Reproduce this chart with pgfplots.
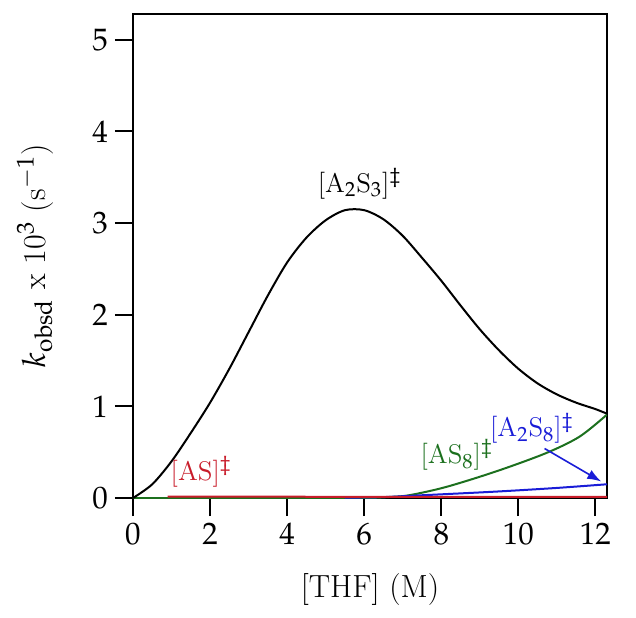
\documentclass[border=0pt]{standalone}
\usepackage{mathpazo}
\usepackage{pgfplots}
\pgfplotsset{compat=1.18}
\usetikzlibrary{arrows.meta}

\definecolor{mred}{RGB}{200,28,42}
\definecolor{mgreen}{RGB}{28,112,30}
\definecolor{mblue}{RGB}{25,28,215}

\begin{document}
\begin{tikzpicture}
\path[use as bounding box] (-66.5pt,-59.5pt) rectangle (251.5pt,249pt);
\begin{axis}[
    at={(0,0)}, anchor=south west,
    scale only axis,
    width=237pt,
    height=242pt,
    xmin=0, xmax=12.3,
    ymin=0, ymax=5.28,
    xtick={0,2,...,12},
    ytick={0,1,...,5},
    tick pos=left,
    tick align=outside,
    major tick length=9pt,
    axis line style={line width=1pt},
    every tick/.style={black, line width=1pt},
    ticklabel style={font=\fontsize{15.5}{17}\selectfont},
    label style={font=\fontsize{16}{18}\selectfont},
    xlabel={[THF] (M)},
    ylabel={$k_{\mathrm{obsd}}$ x 10$^{3}$ (s$^{-1}$)},
    xlabel style={at={(axis description cs:0.5,-0.19)}, anchor=center},
    ylabel style={at={(axis description cs:-0.207,0.5)}, anchor=center},
]
% [AS8]
\addplot[mgreen, line width=1pt, smooth] coordinates {
    (0,0) (2,0) (4,0) (6,0.0) (6.6,0.01) (7.16,0.03) (8.12,0.12) (9.42,0.29)
    (10.72,0.49) (11.59,0.67) (12.3,0.91)
};
% [A2S8]
\addplot[mblue, line width=1pt, smooth] coordinates {
    (5.5,0.004) (6.5,0.01) (7.5,0.03) (9.42,0.07) (11,0.11) (12.3,0.15)
};
% [AS]
\addplot[mred, line width=1pt] coordinates {
    (0.9,0.014) (4,0.014) (8,0.012) (12.3,0.012)
};
% [A2S3]
\addplot[black, line width=1pt, smooth] coordinates {
    (0,0) (0.5,0.15) (1.0,0.40) (1.5,0.71) (2.0,1.04) (2.5,1.41)
    (3.0,1.81) (3.5,2.21) (4.0,2.57) (4.5,2.84) (5.0,3.03) (5.5,3.14)
    (6.0,3.14) (6.5,3.04) (7.0,2.86) (7.5,2.62) (8.0,2.37)
    (8.5,2.10) (9.0,1.84) (9.5,1.61) (10.0,1.41) (10.5,1.25)
    (11.0,1.13) (11.5,1.04) (12.0,0.97) (12.3,0.92)
};

\node[font=\fontsize{13.5}{15}\selectfont] at (axis cs:5.88,3.43) {[A$_2$S$_3$]$^{\ddagger}$};
\node[mred, font=\fontsize{13.5}{15}\selectfont] at (axis cs:1.77,0.29) {[AS]$^{\ddagger}$};
\node[mgreen, font=\fontsize{13.5}{15}\selectfont] at (axis cs:8.4,0.47) {[AS$_8$]$^{\ddagger}$};
\node[mblue, font=\fontsize{13.5}{15}\selectfont] at (axis cs:10.35,0.76) {[A$_2$S$_8$]$^{\ddagger}$};
\draw[mblue, line width=0.8pt, -{Latex[length=7pt,width=5pt]}]
    (axis cs:10.68,0.54) -- (axis cs:12.15,0.18);
\end{axis}
\end{tikzpicture}
\end{document}
